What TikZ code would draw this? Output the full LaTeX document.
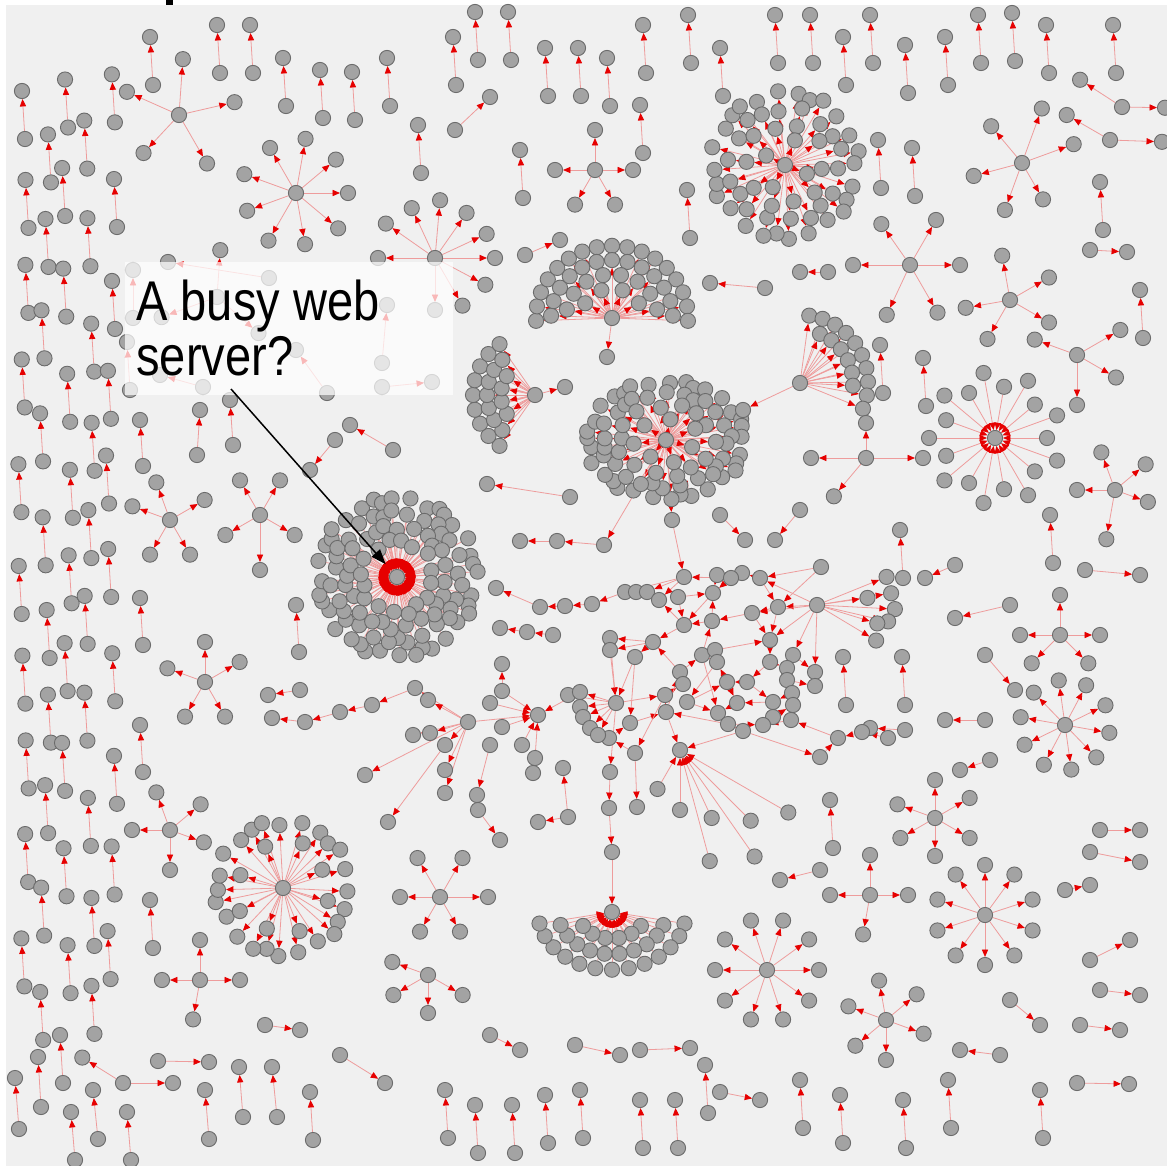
\documentclass[tikz,border=0pt]{standalone}
\usepackage{fontspec}
\setmainfont{Liberation Sans}
\newfontfamily\calloutfont[FakeStretch=0.84]{Liberation Sans}
\usetikzlibrary{arrows.meta}
\definecolor{bgc}{HTML}{F0F0F0}
\definecolor{nfill}{HTML}{A3A3A3}
\definecolor{ndraw}{HTML}{6B6B6B}
\definecolor{edgec}{HTML}{EE9C9C}
\definecolor{arrc}{HTML}{E60000}
\pgfdeclarelayer{bglayer}
\pgfdeclarelayer{edgelayer}
\pgfdeclarelayer{toplayer}
\pgfsetlayers{bglayer,edgelayer,main,toplayer}
\newcounter{pc}
\tikzset{
  gn/.style={circle,fill=nfill,draw=ndraw,line width=0.45pt,minimum size=7.6pt,inner sep=0pt},
  ed/.style={draw=edgec,line width=0.4pt,-{Triangle[length=3.7pt,width=3.1pt,color=arrc]}},
  edbig/.style={draw=edgec,line width=0.4pt,-{Triangle[length=5pt,width=4pt,color=arrc]}},
  calloutbox/.style={fill=white,fill opacity=0.72,draw=none,inner sep=0pt,minimum width=164pt,minimum height=66.5pt,anchor=north west},
  callouttext/.style={font={\calloutfont\fontsize{28pt}{33pt}\selectfont},text=black,inner sep=0pt,anchor=base west},
  callarrow/.style={draw=black,line width=0.75pt,-{Triangle[length=7.5pt,width=5.5pt]},shorten >=4.5pt},
}
\gdef\edgelist{}
\newcommand\Edge[2]{\xdef\edgelist{\unexpanded\expandafter{\edgelist}\noexpand\draw[ed] (#1) -- (#2);}}
\newcommand\BigEdge[2]{\xdef\edgelist{\unexpanded\expandafter{\edgelist}\noexpand\draw[edbig] (#1) -- (#2);}}
\newcommand\gpairs[1]{\foreach \tx/\ty/\sx/\sy in {#1}{\stepcounter{pc}%
  \node[gn] (pa\arabic{pc}) at (\tx,\ty) {};\node[gn] (pb\arabic{pc}) at (\sx,\sy) {};%
  \Edge{pb\arabic{pc}}{pa\arabic{pc}}}}
\newcommand\vpairs[1]{\foreach \tx/\ty in {#1}{\stepcounter{pc}%
  \node[gn] (pa\arabic{pc}) at (\tx,\ty) {};\node[gn] (pb\arabic{pc}) at ({\tx+3},{\ty+48}) {};%
  \Edge{pb\arabic{pc}}{pa\arabic{pc}}}}
\newcommand\mkstarout[4]{\node[gn] (#1) at (#2,#3) {};%
  \foreach \a/\r [count=\k] in {#4}{\node[gn] (#1l\k) at ({#2+\r*cos(\a)},{#3+\r*sin(\a)}) {};\Edge{#1}{#1l\k}}}
\newcommand\mkstarin[4]{\node[gn] (#1) at (#2,#3) {};%
  \foreach \a/\r [count=\k] in {#4}{\node[gn] (#1l\k) at ({#2+\r*cos(\a)},{#3+\r*sin(\a)}) {};\Edge{#1l\k}{#1}}}
% dir: 0 = hub to leaf, 1 = leaf to hub, 2 = leaf to hub with large tips
\newcommand\mkring[8]{%
  \foreach \k in {1,...,#5}{%
    \pgfmathsetmacro\ang{#6+360*\k/#5+4*sin(77*\k)}%
    \pgfmathsetmacro\rr{#4+3*sin(131*\k+#4)}%
    \node[gn] (#1-#4-\k) at ({#2+\rr*cos(\ang)},{#3+#7*\rr*sin(\ang)}) {};%
    \ifcase#8 \Edge{#1}{#1-#4-\k}\or\Edge{#1-#4-\k}{#1}\or\BigEdge{#1-#4-\k}{#1}\fi}}
\newcommand\mkfan[9]{%
  \foreach \k in {1,...,#5}{%
    \pgfmathsetmacro\ang{#6+(#7-#6)*(\k-0.5)/#5}%
    \node[gn] (#1-#4-\k) at ({#2+#4*cos(\ang)},{#3+#8*#4*sin(\ang)}) {};%
    \ifnum#9=0 \Edge{#1}{#1-#4-\k}\else\Edge{#1-#4-\k}{#1}\fi}}
\begin{document}
\begin{tikzpicture}[x=0.5pt,y=-0.5pt]
\useasboundingbox (0,0) rectangle (1167,1166);
\begin{pgfonlayer}{bglayer}
\fill[white] (0,0) rectangle (1167,1166);
\fill[bgc] (6,5) rectangle (1167,1166);
\fill[black] (166,0) rectangle (173,5);
\end{pgfonlayer}

% ---------- big clusters ----------
\node[gn] (h1) at (397,577) {};
\mkring{h1}{397}{577}{78}{36}{0}{1}{2}
\mkring{h1}{397}{577}{64}{30}{5}{1}{2}
\mkring{h1}{397}{577}{50}{24}{3}{1}{2}
\mkring{h1}{397}{577}{36}{16}{8}{1}{2}

\node[gn] (h2) at (666,440) {};
\mkring{h2}{666}{440}{78}{32}{0}{0.74}{0}
\mkring{h2}{666}{440}{63}{26}{6}{0.74}{0}
\mkring{h2}{666}{440}{47}{14}{3}{0.74}{0}
\mkring{h2}{666}{440}{30}{7}{20}{0.74}{0}

\node[gn] (h6) at (785,165) {};
\mkring{h6}{785}{165}{72}{26}{0}{1}{0}
\mkring{h6}{785}{165}{56}{18}{7}{1}{0}
\mkring{h6}{785}{165}{40}{10}{3}{1}{0}
\mkring{h6}{785}{165}{24}{4}{25}{1}{0}

\node[gn] (h8) at (283,888) {};
\mkring{h8}{283}{888}{66}{24}{0}{1}{0}
\mkring{h8}{283}{888}{46}{8}{20}{1}{0}

\node[gn] (h3) at (612,318) {};
\mkfan{h3}{612}{318}{76}{17}{172}{368}{0.95}{0}
\mkfan{h3}{612}{318}{61}{13}{175}{365}{0.95}{0}
\mkfan{h3}{612}{318}{46}{8}{180}{360}{0.95}{0}
\mkfan{h3}{612}{318}{31}{4}{190}{350}{0.95}{0}

\node[gn] (h4) at (535,395) {};
\mkfan{h4}{535}{395}{62}{9}{118}{242}{1}{0}
\mkfan{h4}{535}{395}{48}{7}{125}{235}{1}{0}
\mkfan{h4}{535}{395}{34}{4}{135}{225}{1}{0}

\node[gn] (h5) at (800,383) {};
\mkfan{h5}{800}{383}{68}{10}{272}{388}{1}{0}
\mkfan{h5}{800}{383}{53}{6}{285}{370}{1}{0}

\node[gn] (h9) at (612,912) {};
\mkfan{h9}{612}{912}{74}{13}{5}{175}{0.78}{1}
\mkfan{h9}{612}{912}{54}{10}{10}{170}{0.78}{1}
\mkfan{h9}{612}{912}{34}{6}{20}{160}{0.78}{1}

\mkstarin{h7}{995}{438}{0/52,20/66,40/52,60/66,80/52,100/66,120/52,140/66,160/52,180/66,200/52,220/66,240/52,260/66,280/52,300/66,320/52,340/66}

% ---------- small stars ----------
\mkstarout{sa}{179}{115}{204/57,274/56,347/57,133/52,60/56}
\mkstarout{sj}{296}{193}{0/52,40/55,80/52,120/55,160/52,200/55,240/52,280/55,320/52}
\mkstarout{sk}{435}{258}{180/57,215/60,245/55,275/58,305/55,335/57,0/60,28/57,60/55,90/52}
\mkstarout{sc}{217}{297}{274/47,160/59,41/55}
\mkstarout{sq}{595}{170}{180/40,0/38,270/40,120/40,60/40}
\mkstarout{sl}{1022}{163}{290/58,340/55,60/42,110/50,165/50,230/48}
\mkstarout{sm}{910}{265}{180/57,235/50,300/52,0/50,60/55,115/55}
\mkstarout{sna}{1010}{300}{170/45,260/45,330/45,30/45,120/45}
\mkstarout{snb}{1077}{355}{200/45,330/50,30/45,90/50}
\mkstarout{soa}{866}{458}{180/55,130/50,0/57,270/35}
\mkstarout{sob}{1115}{490}{180/38,100/50,320/40,20/35,250/40}
\mkstarout{soc}{1060}{635}{0/40,180/40,270/40,135/40,45/40}
\mkstarout{sN}{1065}{725}{10/45,46/45,82/45,118/45,154/45,190/45,226/45,262/45,298/45,334/45}
\mkstarout{spa}{935}{818}{200/40,270/38,330/40,30/40,90/38,150/40}
\mkstarout{spb}{870}{895}{180/40,0/38,270/40,100/40}
\mkstarout{sO}{985}{915}{18/50,54/50,90/50,126/50,162/50,198/50,234/50,270/50,306/50,342/50}
\mkstarout{sqa}{886}{1020}{200/40,260/40,320/40,20/40,90/40,140/40}
\mkstarout{sP}{767}{970}{0/52,36/52,72/52,108/52,144/52,180/52,216/52,252/52,288/52,324/52}
\mkstarout{sra}{428}{975}{150/40,30/40,90/38,200/38}
\mkstarout{srb}{440}{897}{180/40,240/45,300/45,0/48,60/40,120/40}
\mkstarout{ssa}{205}{682}{200/40,270/40,330/40,60/40,120/40}
\mkstarout{ssb}{170}{520}{200/40,250/40,330/40,60/40,120/40}
\mkstarout{ssc}{260}{515}{240/40,300/40,30/40,150/40,90/55}
\mkstarout{ssd}{170}{830}{250/40,320/40,20/36,90/40,180/38}
\mkstarout{sse}{200}{980}{180/38,270/40,0/40,100/40}
\mkstarout{sst}{123}{1083}{212/48,0/50}
\mkstarout{sua}{1122}{107}{213/50,1/43}
\mkstarout{sub}{1110}{140}{210/50,2/52}
\mkstarout{mh}{817}{605}{338/75,351/75,352/51,3/78,13/73,17/63,31/69}
\mkstarin{hb}{680}{750}{120/45,90/60,65/75,45/100,30/125,55/130,75/115}

% ---------- left band, regular pairs ----------
\foreach \c in {0,...,4}{\foreach \rw in {0,...,9}{%
  \pgfmathsetmacro\px{22+22*\c+4*sin(97*\c+61*\rw)}%
  \pgfmathsetmacro\py{82+95*\rw+47*mod(\c,2)+9*cos(53*\c+71*\rw)}%
  \stepcounter{pc}%
  \node[gn] (pa\arabic{pc}) at (\px,\py) {};
  \node[gn] (pb\arabic{pc}) at ({\px+3},{\py+48}) {};
  \Edge{pb\arabic{pc}}{pa\arabic{pc}}}}

% ---------- pairs ----------
\vpairs{150/37,217/25,250/25,283/58,320/70,352/72,387/58,453/37,475/12,508/12,545/48,578/48,607/58,643/25,688/15,720/48,775/15,810/15,843/37,870/15,905/45,945/37,978/15,1012/13,1046/25,1113/25,418/125,520/150,640/105,687/190,878/140,912/148,1100/182}
\gpairs{490/97/455/130,560/240/525/255}
\gpairs{133/270/133/318,168/262/269/278,127/342/130/390,387/305/382/363,432/382/382/387,296/350/327/393,160/375/203/387}
\gpairs{140/420/143/466,200/410/197/455,230/400/233/445,140/598/143/645,296/605/299/652,140/725/143/772,268/695/300/690,350/425/393/450,310/470/335/440}
\gpairs{15/1078/19/1129,38/1057/41/1107,60/1035/63/1083,93/1090/98/1139,71/1112/75/1160,127/1112/131/1160,205/1090/209/1139,239/1067/243/1117,272/1067/277/1117,209/1062/158/1061}
\gpairs{385/1083/340/1055,300/1030/265/1025}
\vpairs{150/900,310/1092,445/1090,475/1105,512/1105,545/1095,580/1090,640/1100,675/1100,705/1065,800/1080,840/1095,903/1100,948/1080,1040/1090}
\gpairs{620/1055/575/1045,690/1048/640/1050,760/1100/720/1092,520/1050/490/1035,960/1050/1000/1055,1040/1025/1010/1000,1129/1084/1077/1083,1120/1030/1080/1025,1140/995/1100/990}
\gpairs{800/272/828/272,1127/252/1090/250,710/283/765/288,925/578/955/565,955/618/1010/605,1015/690/985/655,1140/575/1085/570,870/728/905/730,945/720/985/720,960/770/990/760,1140/830/1100/830,1140/862/1090/852,1090/885/1065/890,1130/940/1090/960,780/880/820/870,745/540/720/515,775/540/800/510}
\vpairs{880/345,923/358,1050/515,900/530,843/657,902/657,830/800,1140/290}

% ---------- middle network nodes ----------
\foreach \n/\x/\y in {m1/625/592,m2/636/592,m3/647/592,m4/659/600,m5/678/597,m6/684/577,m7/717/575,m8/713/593,m9/742/573,m10/760/578,m11/731/578,m12/778/607,m13/821/567,m14/752/613,m15/712/621,m16/684/625,m17/653/642,m18/635/657,m19/610/638,m20/610/650,m21/702/655,m22/715/650,m23/717/662,m24/770/640,m25/793/655,m26/770/662,m27/787/668,m28/787/680,m29/815/672,m30/815/686,m31/680/672,m32/683/684,m33/727/682,m34/747/682,m35/665/695,m36/666/712,m37/687/702,m38/616/703,m39/630/723,m40/609/738,m41/635/753,m43/718/713,m44/728/724,m45/737/703,m46/743/731,m47/773/702,m48/792/693,m49/793/705,m50/773/717,m51/763/725,m52/791/720,m53/838/738,m54/862/732,m55/888/738,m56/820/757,
n1/502/664,n2/502/691,n3/490/703,n4/468/722,n5/502/727,n6/490/745,n7/522/745,n8/538/715,n9/535/758,n10/533/773,n11/445/745,n12/445/770,n13/445/793,n14/477/795,n15/478/810,n16/563/768,n17/568/817,n18/568/695,n19/580/692,n20/580/707,n21/583/717,n22/590/728,n23/598/735,n26/610/772,n28/637/807,
o1/415/688,o2/428/700,o3/413/735,o4/430/733,c1/272/718,c2/305/722,c3/340/712,c4/372/705,b1/365/775,b2/388/822,b4/500/840,b5/538/822,
q1/487/484,q2/570/497,q3/520/541,q4/557/541,q5/604/545,q6/496/588,q7/540/607,q8/565/606,q9/592/604,q10/500/628,q11/527/632,q12/553/635,
k1/672/520,z1/565/387,z5/607/357,u1/612/852,u2/609/808,g1/743/410}
  {\node[gn] (\n) at (\x,\y) {};}

\foreach \a/\b in {m6/m1,m6/m3,m6/m4,m5/m8,m7/m8,m11/m8,m9/m7,m10/m9,m12/m14,m14/m15,m15/m8,m15/m16,m16/m4,m16/m17,m17/m19,m17/m20,m17/m18,m18/m38,m21/m15,m22/m21,m23/m21,m14/m24,m24/m26,m25/m27,m26/m27,m27/m28,m29/m30,m25/m29,m28/m30,m31/m21,m32/m31,m33/m23,m34/m33,m35/m32,m36/m35,m37/m33,m38/m35,m39/m36,m40/m39,m41/m40,m43/m44,m45/m43,m46/m44,m47/m45,m48/m47,m49/m48,m50/m49,m51/m50,m52/m51,m53/m52,m54/m53,m55/m54,m56/m53,m34/m47,m37/m43,m22/m24,m12/m24,m10/m12,m13/m12,m31/m17,m20/m38,m19/m38,m18/m39,m44/m51,m46/m56,m36/m31,m33/m45,m26/m34,m8/m16,m11/m6,m2/m4,m5/m16,m23/m37,m21/m43,m35/m41,m44/m36,
mh/m12,mh/m10,mh/m14,mh/m24,m13/m10,mh/m25,mh/m29,m36/hb,m46/hb,
n2/n8,n3/n8,n5/n8,n9/n8,n19/n8,n4/n8,n7/n8,n4/o1,n4/o2,n4/o3,n4/o4,n4/n11,n4/n12,n4/n13,n6/n14,n14/n15,n10/n9,n17/n16,n2/n1,
m38/n18,m38/n19,m38/n20,m38/n21,m38/n22,m38/n23,m38/n26,n26/u2,u2/u1,u1/h9,m41/n28,
c2/c1,c3/c2,c4/c3,o1/c4,n4/b1,n11/b2,n15/b4,n17/b5,
q2/q1,q5/q4,q4/q3,q8/q7,q7/q6,q9/q8,q11/q10,q12/q11,h2/q5,h2/k1,k1/m6,m1/q9,h4/z1,h3/z5,h5/g1}
  {\Edge{\a}{\b}}

% ---------- all connectors, behind the nodes ----------
\begin{pgfonlayer}{edgelayer}
\edgelist
\end{pgfonlayer}

% ---------- callout ----------
\begin{pgfonlayer}{toplayer}
\node[calloutbox] (cbox) at (125,262) {};
\node[callouttext] (ctext1) at (136,321) {A busy web};
\node[callouttext] (ctext2) at (136,375) {server?};
\coordinate (cstart) at (231,389);
\draw[callarrow] (cstart) -- (h1);
\end{pgfonlayer}
\end{tikzpicture}
\end{document}
